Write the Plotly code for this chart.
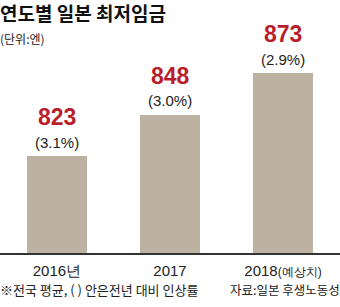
import plotly.graph_objects as go

categories = ["2016년", "2017", "2018(예상치)"]
tick_labels = ["2016년", "2017", "2018<span style='font-size:12px'>(예상치)</span>"]
values = [823, 848, 873]
pct_labels = ["(3.1%)", "(3.0%)", "(2.9%)"]

title = "연도별 일본 최저임금"
unit = "(단위:엔)"
note_left = "※전국 평균, ( ) 안은전년 대비 인상률"
note_right = "자료:일본 후생노동성"

BAR = "#bdb1a2"
RED = "#b81f2b"
KR = "Noto Sans CJK KR"

xs = list(range(len(categories)))
fig = go.Figure(go.Bar(x=xs, y=values, marker=dict(color=BAR, line=dict(width=0)),
                       width=0.53, hoverinfo="skip"))

ann = []
for x, v, p in zip(xs, values, pct_labels):
    ann.append(dict(x=x, y=v, xref="x", yref="y", text=f"<b>{v}</b>", showarrow=False,
                    yshift=39, yanchor="middle",
                    font=dict(family="Liberation Sans, Arial", size=23, color=RED)))
    ann.append(dict(x=x, y=v, xref="x", yref="y", text=p, showarrow=False,
                    yshift=14, yanchor="middle",
                    font=dict(family="Liberation Sans, Arial", size=15, color="#222")))

ann.append(dict(x=0, y=1, xref="paper", yref="paper", text=f"<b>{title}</b>", showarrow=False,
                xanchor="left", yanchor="middle", yshift=-12, xshift=-2,
                font=dict(family=KR, size=19, color="#111")))
ann.append(dict(x=0, y=1, xref="paper", yref="paper", text=unit, showarrow=False,
                xanchor="left", yanchor="middle", yshift=-38, xshift=-2,
                font=dict(family=KR, size=12, color="#222")))
ann.append(dict(x=0, y=0, xref="paper", yref="paper", text=note_left, showarrow=False,
                xanchor="left", yanchor="middle", yshift=-36, xshift=-2,
                font=dict(family=KR, size=13, color="#222")))
ann.append(dict(x=1, y=0, xref="paper", yref="paper", text=note_right, showarrow=False,
                xanchor="right", yanchor="middle", yshift=-36, xshift=2,
                font=dict(family=KR, size=12.5, color="#222")))

fig.update_layout(
    width=340, height=307,
    margin=dict(l=0, r=0, t=0, b=54),
    paper_bgcolor="white", plot_bgcolor="white",
    showlegend=False,
    annotations=ann,
    xaxis=dict(range=[-0.504, 2.504], tickmode="array", tickvals=xs, ticktext=tick_labels,
               showline=True, linecolor="#333", linewidth=1.5, ticks="",
               showgrid=False, zeroline=False, ticklabelstandoff=3,
               tickfont=dict(family="Liberation Sans, Arial", size=15, color="#222")),
    yaxis=dict(range=[764.6, 917], visible=False, showgrid=False, zeroline=False),
    bargap=0,
)

fig.write_html("out.html", config={"displayModeBar": False})
